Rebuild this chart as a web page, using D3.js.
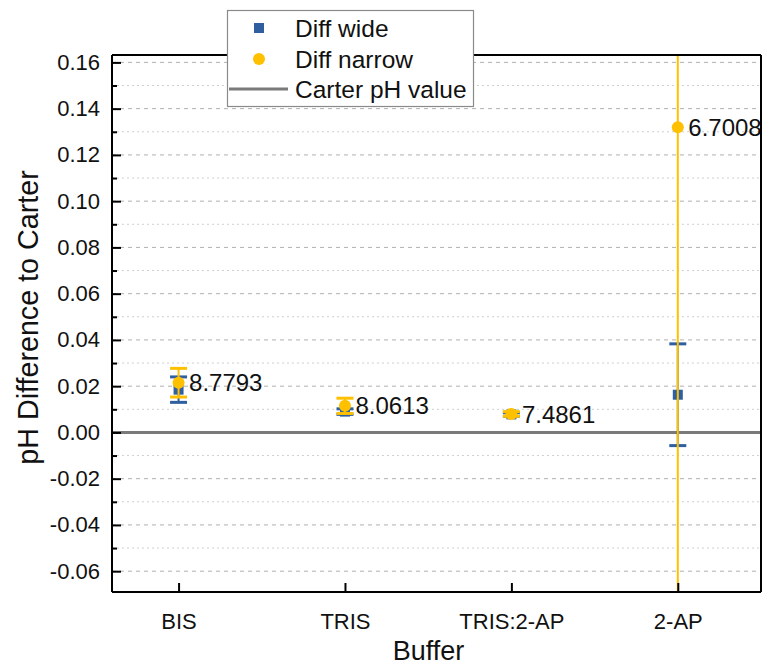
<!DOCTYPE html>
<html>
<head>
<meta charset="utf-8">
<script src="https://cdn.jsdelivr.net/npm/d3@7"></script>
<style>
  html, body { margin: 0; padding: 0; background: #fff; }
  svg { display: block; font-family: "Liberation Sans", Arial, sans-serif; }
</style>
</head>
<body>
<svg id="chart" width="775" height="665"></svg>
<script>
// Buffers on the x axis
const buffers = ["BIS", "TRIS", "TRIS:2-AP", "2-AP"];
// pH difference to Carter, wide range fit
const diffWide = [0.0185, 0.009, 0.0078, 0.0163];
const errWide = [0.0055, 0.0012, 0.0008, 0.022];
// pH difference to Carter, narrow range fit
const diffNarrow = [0.0215, 0.0115, 0.008, 0.132];
const errNarrow = [0.0062, 0.0033, 0.001, 0.25];
// measured pH values annotated next to the narrow points
const phLabels = ["8.7793", "8.0613", "7.4861", "6.7008"];
// Carter reference line
const carterValue = 0;
// y tick values
const yTicks = [-0.06, -0.04, -0.02, 0.00, 0.02, 0.04, 0.06, 0.08, 0.10, 0.12, 0.14, 0.16];
const yMinorTicks = [-0.05, -0.03, -0.01, 0.01, 0.03, 0.05, 0.07, 0.09, 0.11, 0.13, 0.15];

const blue = "#2F5F9E";
const yellow = "#FFC000";
const grey = "#7A7A7A";

const svg = d3.select("#chart");
const plotL = 112, plotR = 761, plotT = 55, plotB = 592;

const x = d3.scaleLinear().domain([0.6, 4.5]).range([plotL, plotR]);
const y = d3.scaleLinear().domain([-0.069, 0.1632]).range([plotB, plotT]);
const xi = i => x(i + 1);

svg.append("defs").append("clipPath").attr("id", "plotClip")
  .append("rect").attr("x", plotL).attr("y", plotT).attr("width", plotR - plotL).attr("height", plotB - plotT);

// grid lines
svg.append("g").selectAll("line").data(yMinorTicks).join("line")
  .attr("x1", plotL).attr("x2", plotR)
  .attr("y1", d => y(d)).attr("y2", d => y(d))
  .attr("stroke", "#cfcfcf").attr("stroke-width", 1).attr("stroke-dasharray", "2,3");
svg.append("g").selectAll("line").data(yTicks).join("line")
  .attr("x1", plotL).attr("x2", plotR)
  .attr("y1", d => y(d)).attr("y2", d => y(d))
  .attr("stroke", "#b0b0b0").attr("stroke-width", 1).attr("stroke-dasharray", "4,4");

// Carter reference line
svg.append("line")
  .attr("x1", plotL).attr("x2", plotR)
  .attr("y1", y(carterValue)).attr("y2", y(carterValue))
  .attr("stroke", grey).attr("stroke-width", 3);

const plot = svg.append("g").attr("clip-path", "url(#plotClip)");

function drawErrorBars(g, vals, errs, color) {
  const cap = 8.5;
  vals.forEach((v, i) => {
    const cx = xi(i);
    g.append("line").attr("x1", cx).attr("x2", cx)
      .attr("y1", y(v - errs[i])).attr("y2", y(v + errs[i]))
      .attr("stroke", color).attr("stroke-width", 2);
    [v - errs[i], v + errs[i]].forEach(e => {
      g.append("line").attr("x1", cx - cap).attr("x2", cx + cap)
        .attr("y1", y(e)).attr("y2", y(e))
        .attr("stroke", color).attr("stroke-width", 3);
    });
  });
}

// wide series: squares
const gWide = plot.append("g");
drawErrorBars(gWide, diffWide, errWide, blue);
gWide.selectAll("rect").data(diffWide).join("rect")
  .attr("x", (d, i) => xi(i) - 5).attr("y", d => y(d) - 5)
  .attr("width", 10).attr("height", 10).attr("fill", blue);

// narrow series: circles
const gNarrow = plot.append("g");
drawErrorBars(gNarrow, diffNarrow, errNarrow, yellow);
gNarrow.selectAll("circle").data(diffNarrow).join("circle")
  .attr("cx", (d, i) => xi(i)).attr("cy", d => y(d))
  .attr("r", 6).attr("fill", yellow);

// pH labels
svg.append("g").selectAll("text").data(diffNarrow).join("text")
  .attr("x", (d, i) => xi(i) + 10.5).attr("y", d => y(d) + 8.6)
  .attr("font-size", 24).attr("fill", "#111")
  .text((d, i) => phLabels[i]);

// frame
svg.append("line").attr("x1", plotL).attr("x2", plotR).attr("y1", plotT).attr("y2", plotT)
  .attr("stroke", "#000").attr("stroke-width", 2);
svg.append("line").attr("x1", plotR).attr("x2", plotR).attr("y1", plotT).attr("y2", plotB)
  .attr("stroke", "#000").attr("stroke-width", 2);

// y axis
const yAxis = svg.append("g").attr("transform", `translate(${plotL},0)`)
  .call(d3.axisLeft(y).tickValues(yTicks).tickSize(-9).tickPadding(12)
    .tickFormat(d => d3.format(".2f")(d).replace("\u2212", "-")));
svg.append("g").attr("transform", `translate(${plotL},0)`)
  .call(d3.axisLeft(y).tickValues(yMinorTicks).tickSize(-5).tickFormat(""))
  .call(g => g.select(".domain").remove())
  .selectAll("line").attr("stroke", "#000").attr("stroke-width", 2);
yAxis.select(".domain").attr("stroke", "#000").attr("stroke-width", 2)
  .attr("d", `M0,${plotB}V${plotT}`);
yAxis.selectAll(".tick line").attr("stroke", "#000").attr("stroke-width", 2);
yAxis.selectAll(".tick text").attr("font-size", 22).attr("fill", "#111")
  .attr("font-family", "Liberation Sans, Arial, sans-serif");

// x axis
const xAxis = svg.append("g").attr("transform", `translate(0,${plotB})`)
  .call(d3.axisBottom(x).tickValues(buffers.map((b, i) => i + 1)).tickSize(-9).tickPadding(20)
    .tickFormat((d, i) => buffers[i]));
xAxis.select(".domain").attr("stroke", "#000").attr("stroke-width", 2)
  .attr("d", `M${plotL},0H${plotR}`);
xAxis.selectAll(".tick line").attr("stroke", "#000").attr("stroke-width", 2);
xAxis.selectAll(".tick text").attr("font-size", 22).attr("fill", "#111")
  .attr("font-family", "Liberation Sans, Arial, sans-serif")
  .attr("dy", null).attr("y", 37);

// axis titles
svg.append("text").attr("x", (plotL + plotR) / 2 - 8).attr("y", 660)
  .attr("text-anchor", "middle").attr("font-size", 27).attr("fill", "#111").text("Buffer");
svg.append("text").attr("transform", "translate(38,317.5) rotate(-90)")
  .attr("text-anchor", "middle").attr("font-size", 28.7).attr("fill", "#111")
  .text("pH Difference to Carter");

// legend
const lg = svg.append("g");
lg.append("rect").attr("x", 227.5).attr("y", 10.5).attr("width", 246).attr("height", 96)
  .attr("fill", "#fff").attr("stroke", "#8a8a8a").attr("stroke-width", 1.2);
lg.append("rect").attr("x", 254).attr("y", 23).attr("width", 10).attr("height", 10).attr("fill", blue);
lg.append("circle").attr("cx", 259).attr("cy", 59).attr("r", 6).attr("fill", yellow);
lg.append("line").attr("x1", 229).attr("x2", 288).attr("y1", 89).attr("y2", 89)
  .attr("stroke", grey).attr("stroke-width", 3);
const legendItems = ["Diff wide", "Diff narrow", "Carter pH value"];
const legendY = [28, 59, 89];
lg.selectAll("text.lt").data(legendItems).join("text").attr("class", "lt")
  .attr("x", 295).attr("y", (d, i) => legendY[i] + 8.8)
  .attr("font-size", 24.5).attr("fill", "#111").text(d => d);
</script>
</body>
</html>
